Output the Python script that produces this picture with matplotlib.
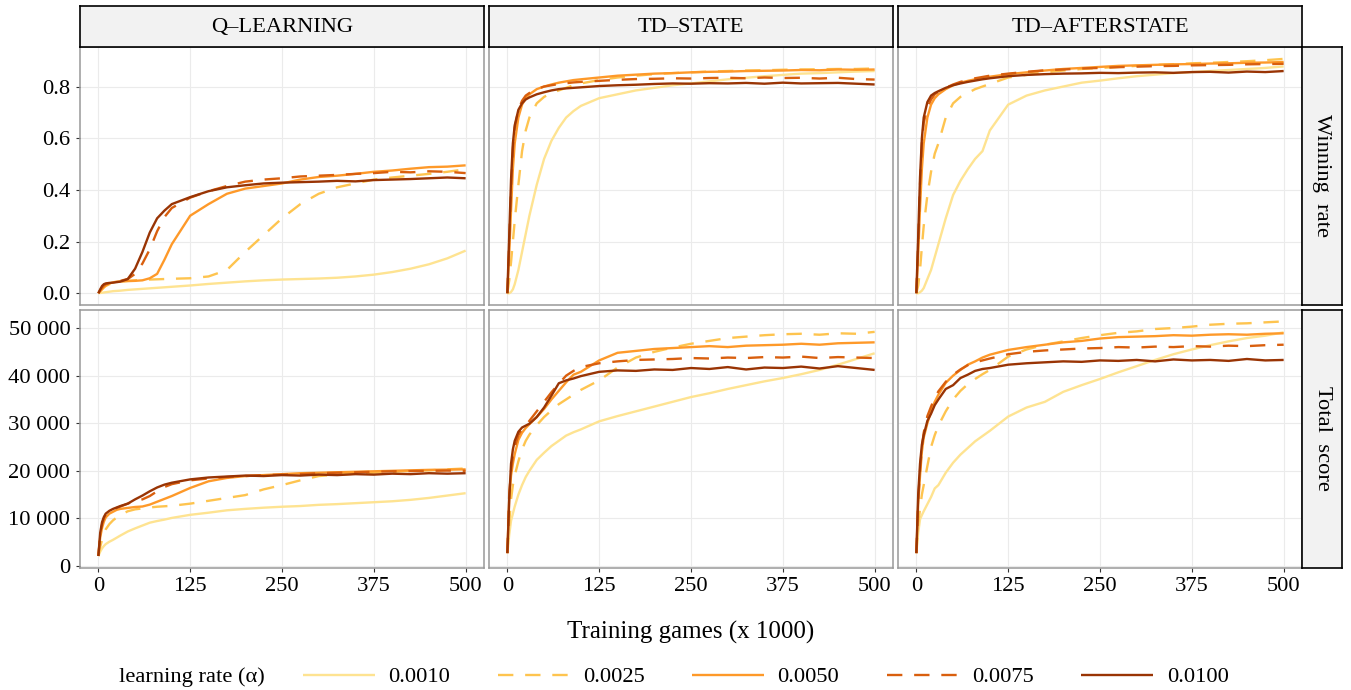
import matplotlib
matplotlib.use("Agg")
import matplotlib.pyplot as plt
from matplotlib.ticker import FuncFormatter

plt.rcParams['font.family'] = ['Liberation Serif', 'DejaVu Serif']

W, H = 1351, 690

# ---- data ----
games = [0, 2.5, 5, 7.5, 10, 15, 20, 25, 30, 40, 50, 60, 70, 80, 90, 100,
         125, 150, 175, 200, 225, 250, 275, 300, 325, 350, 375, 400, 425, 450, 475, 500]

rates = ['0.0010', '0.0025', '0.0050', '0.0075', '0.0100']
colors = ['#FEE391', '#FEC44F', '#FE9929', '#D95F0E', '#993404']
dashed = [False, True, False, True, False]

methods = ['Q\u2013LEARNING', 'TD\u2013STATE', 'TD\u2013AFTERSTATE']
measures = ['Winning  rate', 'Total  score']

# winning rate
q_win_0010 = [0, 0.001, 0.002, 0.003, 0.004, 0.006, 0.008, 0.009, 0.010, 0.013, 0.015, 0.017, 0.019, 0.021, 0.023, 0.025,
              0.030, 0.036, 0.041, 0.046, 0.050, 0.053, 0.055, 0.057, 0.060, 0.065, 0.072, 0.082, 0.095, 0.112, 0.135, 0.165]
q_win_0025 = [0, 0.008, 0.015, 0.022, 0.028, 0.035, 0.040, 0.043, 0.045, 0.048, 0.050, 0.052, 0.053, 0.054, 0.055, 0.056,
              0.058, 0.065, 0.090, 0.160, 0.225, 0.290, 0.345, 0.385, 0.410, 0.425, 0.440, 0.448, 0.455, 0.462, 0.470, 0.480]
q_win_0050 = [0, 0.008, 0.016, 0.024, 0.030, 0.038, 0.042, 0.045, 0.046, 0.047, 0.048, 0.050, 0.058, 0.075, 0.130, 0.190,
              0.300, 0.345, 0.385, 0.405, 0.415, 0.425, 0.440, 0.450, 0.455, 0.462, 0.470, 0.475, 0.482, 0.488, 0.490, 0.495]
q_win_0075 = [0, 0.012, 0.022, 0.030, 0.035, 0.040, 0.043, 0.045, 0.048, 0.055, 0.075, 0.115, 0.170, 0.240, 0.295, 0.330,
              0.370, 0.395, 0.415, 0.432, 0.440, 0.445, 0.452, 0.455, 0.458, 0.462, 0.465, 0.470, 0.468, 0.472, 0.470, 0.465]
q_win_0100 = [0, 0.015, 0.028, 0.035, 0.038, 0.040, 0.041, 0.043, 0.045, 0.055, 0.095, 0.160, 0.235, 0.290, 0.320, 0.345,
              0.372, 0.395, 0.410, 0.418, 0.425, 0.428, 0.430, 0.432, 0.435, 0.433, 0.438, 0.440, 0.442, 0.445, 0.448, 0.445]

ts_win_0010 = [0, 0.0, 0.005, 0.015, 0.035, 0.090, 0.160, 0.230, 0.300, 0.420, 0.520, 0.590, 0.640, 0.680, 0.705, 0.725,
               0.755, 0.770, 0.785, 0.795, 0.805, 0.812, 0.820, 0.828, 0.834, 0.840, 0.845, 0.850, 0.852, 0.855, 0.858, 0.860]
ts_win_0025 = [0, 0.05, 0.12, 0.20, 0.28, 0.42, 0.55, 0.63, 0.68, 0.735, 0.76, 0.775, 0.785, 0.795, 0.805, 0.812,
               0.825, 0.835, 0.842, 0.848, 0.852, 0.855, 0.858, 0.860, 0.862, 0.863, 0.865, 0.866, 0.867, 0.868, 0.868, 0.870]
ts_win_0050 = [0, 0.15, 0.32, 0.48, 0.58, 0.68, 0.73, 0.755, 0.77, 0.79, 0.80, 0.808, 0.815, 0.82, 0.825, 0.828,
               0.835, 0.842, 0.846, 0.850, 0.852, 0.855, 0.857, 0.858, 0.860, 0.861, 0.862, 0.864, 0.863, 0.866, 0.865, 0.866]
ts_win_0075 = [0, 0.20, 0.40, 0.56, 0.64, 0.71, 0.745, 0.765, 0.775, 0.79, 0.80, 0.805, 0.81, 0.813, 0.816, 0.818,
               0.822, 0.826, 0.829, 0.830, 0.832, 0.831, 0.833, 0.834, 0.832, 0.835, 0.833, 0.834, 0.831, 0.834, 0.829, 0.827]
ts_win_0100 = [0, 0.22, 0.44, 0.58, 0.65, 0.71, 0.735, 0.75, 0.758, 0.77, 0.778, 0.785, 0.79, 0.793, 0.795, 0.797,
               0.802, 0.805, 0.807, 0.810, 0.812, 0.811, 0.813, 0.812, 0.814, 0.811, 0.815, 0.812, 0.813, 0.814, 0.811, 0.808]

ta_win_0010 = [0, 0.0, 0.004, 0.010, 0.020, 0.055, 0.090, 0.140, 0.190, 0.290, 0.380, 0.435, 0.480, 0.520, 0.550, 0.630,
               0.730, 0.765, 0.785, 0.800, 0.815, 0.823, 0.832, 0.840, 0.846, 0.852, 0.856, 0.860, 0.864, 0.868, 0.872, 0.878]
ta_win_0025 = [0, 0.03, 0.09, 0.18, 0.26, 0.38, 0.47, 0.54, 0.58, 0.68, 0.735, 0.76, 0.775, 0.79, 0.80, 0.81,
               0.835, 0.845, 0.855, 0.862, 0.868, 0.872, 0.876, 0.880, 0.884, 0.886, 0.890, 0.892, 0.895, 0.898, 0.902, 0.907]
ta_win_0050 = [0, 0.15, 0.33, 0.48, 0.58, 0.68, 0.73, 0.755, 0.77, 0.79, 0.805, 0.815, 0.822, 0.828, 0.833, 0.838,
               0.848, 0.855, 0.862, 0.868, 0.872, 0.876, 0.880, 0.882, 0.884, 0.886, 0.887, 0.889, 0.890, 0.892, 0.893, 0.895]
ta_win_0075 = [0, 0.20, 0.42, 0.58, 0.66, 0.72, 0.75, 0.77, 0.78, 0.795, 0.808, 0.818, 0.825, 0.832, 0.837, 0.842,
               0.850, 0.857, 0.863, 0.866, 0.870, 0.872, 0.875, 0.877, 0.879, 0.880, 0.882, 0.883, 0.884, 0.886, 0.887, 0.888]
ta_win_0100 = [0, 0.22, 0.45, 0.60, 0.68, 0.74, 0.765, 0.775, 0.782, 0.795, 0.805, 0.812, 0.818, 0.823, 0.828, 0.832,
               0.840, 0.845, 0.848, 0.850, 0.851, 0.853, 0.852, 0.854, 0.855, 0.853, 0.856, 0.857, 0.854, 0.858, 0.856, 0.860]

# total score
q_sc_0010 = [2100, 3000, 3700, 4200, 4600, 5100, 5500, 5950, 6400, 7250, 7900, 8500, 9100, 9450, 9750, 10100,
             10750, 11200, 11700, 12000, 12250, 12450, 12600, 12850, 13000, 13200, 13400, 13600, 13900, 14300, 14800, 15300]
q_sc_0025 = [2100, 4000, 5500, 6800, 7700, 8800, 9600, 10200, 10700, 11500, 11900, 12100, 12300, 12450, 12550, 12650,
             13100, 13700, 14300, 14900, 16100, 17000, 18000, 18900, 19200, 19400, 19600, 19800, 20000, 20100, 20300, 20500]
q_sc_0050 = [2100, 6000, 8000, 9300, 10200, 11000, 11400, 11800, 12000, 12200, 12400, 12500, 12900, 13500, 14100, 14700,
             16400, 17800, 18500, 18900, 19100, 19300, 19500, 19600, 19700, 19800, 19900, 20000, 20100, 20200, 20250, 20300]
q_sc_0075 = [2100, 6500, 8700, 10000, 10800, 11500, 11900, 12200, 12500, 13100, 13700, 14000, 14700, 15700, 16600, 17200,
             18000, 18400, 18700, 18900, 19100, 19200, 19300, 19500, 19600, 19700, 19800, 19900, 19950, 20000, 20050, 20000]
q_sc_0100 = [2100, 7000, 9200, 10300, 11000, 11600, 12000, 12300, 12600, 13100, 14000, 14800, 15700, 16500, 17100, 17500,
             18200, 18600, 18800, 19000, 18900, 19100, 19000, 19200, 19100, 19300, 19200, 19400, 19300, 19500, 19400, 19500]

ts_sc_0010 = [2700, 6500, 9500, 11000, 12500, 15000, 17000, 18700, 20000, 22300, 23800, 25200, 26300, 27400, 28100, 28700,
              30400, 31500, 32500, 33500, 34500, 35500, 36300, 37200, 38000, 38800, 39500, 40300, 41200, 42300, 43500, 44700]
ts_sc_0025 = [2700, 9000, 14000, 17000, 19000, 22000, 24500, 26300, 27600, 29600, 31300, 32700, 34000, 35000, 36000, 37000,
              39000, 41700, 43800, 45000, 45900, 46700, 47300, 47900, 48200, 48500, 48700, 48800, 48600, 48900, 48800, 49200]
ts_sc_0050 = [2700, 14000, 19000, 21500, 23500, 26500, 28000, 29000, 29800, 31300, 33000, 35000, 36800, 38600, 40200, 40800,
              43200, 44800, 45200, 45600, 45800, 46000, 46200, 46000, 46300, 46400, 46500, 46700, 46500, 46800, 46900, 47000]
ts_sc_0075 = [2700, 15000, 20000, 23000, 25000, 27500, 28800, 29500, 30500, 32500, 34500, 36500, 38300, 40000, 41000, 41800,
              42600, 43000, 43300, 43400, 43500, 43700, 43600, 43800, 43700, 43900, 43800, 44000, 43700, 43900, 43800, 43700]
ts_sc_0100 = [2700, 14000, 21500, 24500, 26300, 28200, 29100, 29500, 29900, 31300, 33300, 35800, 38400, 39000, 39400, 39900,
              40800, 41100, 41000, 41300, 41200, 41600, 41400, 41800, 41300, 41700, 41600, 41900, 41500, 42000, 41600, 41200]

ta_sc_0010 = [2700, 7000, 9800, 10700, 11500, 13000, 14500, 16300, 17000, 19600, 21700, 23400, 24800, 26200, 27300, 28400,
              31400, 33300, 34500, 36600, 38000, 39300, 40700, 42000, 43300, 44500, 45500, 46400, 47200, 47900, 48400, 49100]
ta_sc_0025 = [2700, 9000, 12000, 15000, 17000, 21000, 25000, 27500, 29500, 32500, 35000, 36800, 38200, 39300, 40300, 41200,
              44000, 45500, 46500, 47200, 47900, 48500, 49000, 49300, 49800, 50000, 50300, 50700, 50900, 51000, 51200, 51400]
ta_sc_0050 = [2700, 13000, 19000, 24000, 27000, 30000, 32500, 34500, 36000, 38500, 40000, 41200, 42300, 43000, 43800, 44400,
              45400, 46000, 46500, 47000, 47300, 47800, 48100, 48200, 48300, 48500, 48400, 48600, 48700, 48600, 48800, 48900]
ta_sc_0075 = [2700, 14000, 20000, 25000, 28000, 31500, 33500, 35300, 36700, 38700, 40200, 41300, 42200, 42800, 43200, 43600,
              44500, 45000, 45300, 45500, 45700, 45800, 46000, 45900, 46100, 46000, 46200, 46100, 46300, 46200, 46400, 46500]
ta_sc_0100 = [2700, 15000, 21500, 25500, 27500, 30500, 32000, 33800, 35000, 37200, 38000, 39500, 40200, 41000, 41400, 41600,
              42300, 42600, 42800, 43000, 42900, 43200, 43100, 43300, 43000, 43400, 43200, 43300, 43100, 43500, 43200, 43300]

panels = [
    [[q_win_0010, q_win_0025, q_win_0050, q_win_0075, q_win_0100],
     [ts_win_0010, ts_win_0025, ts_win_0050, ts_win_0075, ts_win_0100],
     [ta_win_0010, ta_win_0025, ta_win_0050, ta_win_0075, ta_win_0100]],
    [[q_sc_0010, q_sc_0025, q_sc_0050, q_sc_0075, q_sc_0100],
     [ts_sc_0010, ts_sc_0025, ts_sc_0050, ts_sc_0075, ts_sc_0100],
     [ta_sc_0010, ta_sc_0025, ta_sc_0050, ta_sc_0075, ta_sc_0100]],
]


def rect(x0, y0, x1, y1):
    # pixel box (top-left origin) -> figure fraction
    return [x0 / W, 1 - y1 / H, (x1 - x0) / W, (y1 - y0) / H]


fig = plt.figure(figsize=(W / 100, H / 100), dpi=100)

cols = [(80, 484), (489, 893), (898, 1302)]
rows = [(46.5, 305), (309.5, 567.7)]
ylims = [(-0.0455, 0.955), (-360, 53900)]
yticks = [[0, 0.2, 0.4, 0.6, 0.8], [0, 10000, 20000, 30000, 40000, 50000]]
yfmt = [FuncFormatter(lambda v, p: '%.1f' % v),
        FuncFormatter(lambda v, p: '{:,}'.format(int(v)).replace(',', ' '))]

FS = 16.2
handles = []
for r, (y0, y1) in enumerate(rows):
    for c, (x0, x1) in enumerate(cols):
        ax = fig.add_axes(rect(x0, y0, x1, y1))
        ax.set_xlim(-25, 525)
        ax.set_ylim(*ylims[r])
        ax.set_xticks([0, 125, 250, 375, 500])
        ax.set_yticks(yticks[r])
        ax.yaxis.set_major_formatter(yfmt[r])
        ax.grid(True, color='#ebebeb', lw=0.8)
        ax.set_axisbelow(True)
        for s in ax.spines.values():
            s.set_color('#999999')
            s.set_linewidth(1.1)
        ax.tick_params(length=3, width=0.8, color='#333333', labelsize=FS,
                       labelcolor='black', pad=4)
        if c > 0:
            ax.tick_params(axis='y', left=False, labelleft=False)
        if r == 0:
            ax.tick_params(axis='x', bottom=False, labelbottom=False)
        for k, series in enumerate(panels[r][c]):
            ln, = ax.plot(games, series, color=colors[k], lw=1.7,
                          solid_joinstyle='round', solid_capstyle='butt')
            if dashed[k]:
                ln.set_dashes((6.5, 5.0))
            if r == 0 and c == 0:
                handles.append(ln)

# strips
for c, (x0, x1) in enumerate(cols):
    sax = fig.add_axes(rect(x0, 6, x1, 46.5))
    sax.set_facecolor('#f2f2f2')
    sax.set_xticks([])
    sax.set_yticks([])
    for s in sax.spines.values():
        s.set_color('black')
        s.set_linewidth(1.2)
    sax.text(0.5, 0.48, methods[c], ha='center', va='center', fontsize=FS, transform=sax.transAxes)

for r, (y0, y1) in enumerate(rows):
    sax = fig.add_axes(rect(1302, y0, 1342, y1))
    sax.set_facecolor('#f2f2f2')
    sax.set_xticks([])
    sax.set_yticks([])
    for s in sax.spines.values():
        s.set_color('black')
        s.set_linewidth(1.2)
    sax.text(0.5, 0.5, measures[r], ha='center', va='center', rotation=-90,
             fontsize=FS, transform=sax.transAxes)

fig.text(691 / W, 1 - 632 / H, 'Training games (x 1000)', ha='center', va='center', fontsize=18)

fig.text(119 / W, 1 - 677 / H, 'learning rate (\u03b1)', ha='left', va='center', fontsize=FS)
fig.legend(handles, rates, ncol=5, loc='center left', bbox_to_anchor=(303 / W, 1 - 677 / H),
           frameon=False, fontsize=FS, handlelength=3.2, handletextpad=0.6,
           columnspacing=2.1, borderpad=0, borderaxespad=0)

fig.savefig('out.png', dpi=100)
